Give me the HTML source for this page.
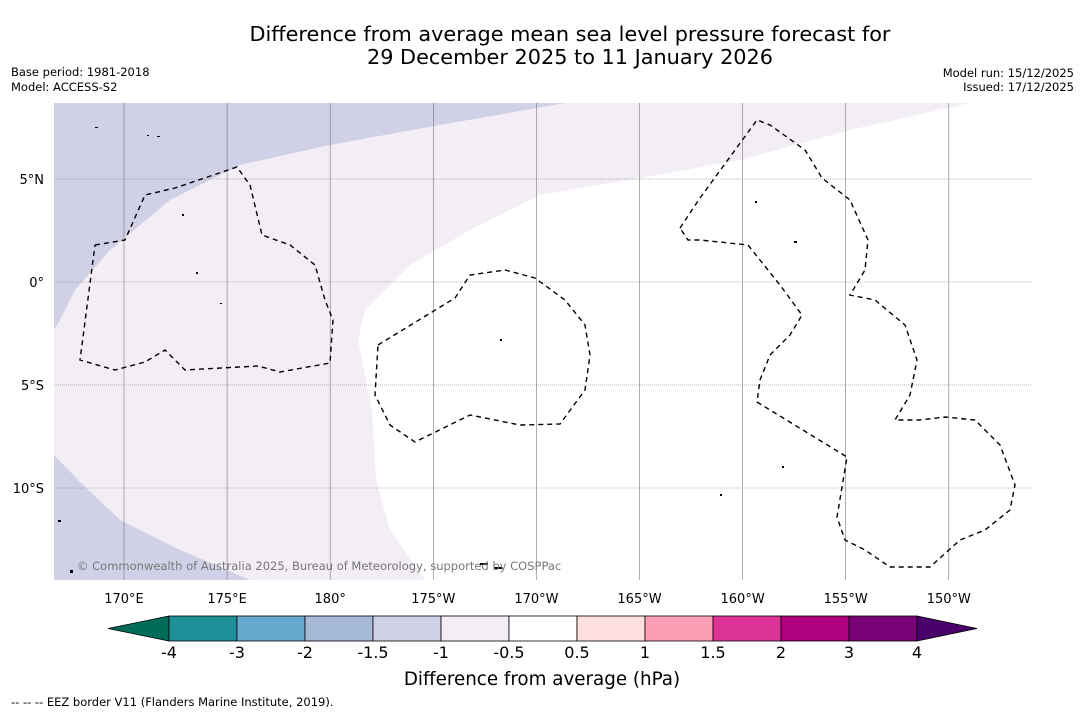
<!DOCTYPE html>
<html><head><meta charset="utf-8"><style>
html,body{margin:0;padding:0;background:#fff;width:1085px;height:713px;overflow:hidden;font-family:"DejaVu Sans","Liberation Sans",sans-serif}
svg{display:block}
</style></head><body>
<svg id="s" width="1085" height="713" viewBox="0 0 1085 713" xmlns="http://www.w3.org/2000/svg" font-family="DejaVu Sans, Liberation Sans, sans-serif">
<text x="570" y="41" font-size="20.8" text-anchor="middle">Difference from average mean sea level pressure forecast for</text>
<text x="570" y="64" font-size="20.8" text-anchor="middle">29 December 2025 to 11 January 2026</text>
<text x="11" y="76" font-size="11.5">Base period: 1981-2018</text>
<text x="11" y="91" font-size="11.5">Model: ACCESS-S2</text>
<text x="1074" y="77" font-size="11.5" text-anchor="end">Model run: 15/12/2025</text>
<text x="1074" y="91" font-size="11.5" text-anchor="end">Issued: 17/12/2025</text>
<defs><clipPath id="mc"><rect x="54" y="103" width="977" height="477"/></clipPath></defs>
<g clip-path="url(#mc)">
<rect x="54" y="103" width="977" height="477" fill="#f3edf5"/>
<polygon fill="#d0d1e6" points="54,103 565,103 440,125 330,145 240,165 170,200 110,250 75,290 60,320 54,330"/>
<polygon fill="#d0d1e6" points="54,455 80,482 120,520 180,550 250,580 54,580"/>
<polygon fill="#ffffff" points="970,103 850,130 740,160 640,178 540,195 470,230 410,265 365,310 358,340 372,410 376,480 390,530 425,580 1031,580 1031,103"/>
<g id="grid" stroke="#777" stroke-width="0.6"></g>
<g fill="none" stroke="#000" stroke-width="1.4" stroke-dasharray="5,4">
<polyline points="95,245 125,240 145,195 175,188 237,167 250,185 262,235 290,245 315,265 325,300 333,320 330,363 280,372 258,366 185,370 165,350 145,362 115,370 80,360 95,245"/>
<polyline points="378,345 455,298 470,275 505,270 535,278 565,300 585,325 590,355 585,390 560,424 520,425 470,415 415,442 390,425 375,395 378,345"/>
<polyline points="680,228 700,198 757,120 770,125 805,150 822,178 850,200 868,240 865,270 850,295 875,300 905,325 917,360 910,395 895,420 920,420 945,417 975,420 1000,445 1015,485 1010,510 985,530 960,540 930,567 890,567 865,550 845,540 837,517 847,457 757,402 760,380 770,355 790,335 802,315 780,285 748,245 700,240 688,240 680,228"/>
</g>
<g fill="#000">
<rect x="95" y="127" width="3" height="1"/><rect x="147" y="135" width="2" height="1"/><rect x="157" y="136" width="3" height="1"/><rect x="182" y="214" width="2" height="2"/><rect x="196" y="272" width="2" height="2"/><rect x="220" y="303" width="2" height="1"/><rect x="500" y="339" width="2" height="2"/><rect x="755" y="201" width="2" height="2"/><rect x="794" y="241" width="3" height="2"/><rect x="480" y="563" width="8" height="2"/><rect x="494" y="567" width="8" height="2"/><rect x="58" y="520" width="3" height="2"/><rect x="70" y="570" width="3" height="3"/><rect x="782" y="466" width="2" height="2"/><rect x="720" y="494" width="2" height="2"/>
</g>
<text x="77" y="570" font-size="11.5" fill="#777">© Commonwealth of Australia 2025, Bureau of Meteorology, supported by COSPPac</text>
</g>
<g id="ticks" font-size="13"></g>
<g id="cbar"></g>
<text x="542" y="685" font-size="18.3" text-anchor="middle">Difference from average (hPa)</text>
<text x="11" y="706" font-size="11.5">--  --  -- EEZ border V11 (Flanders Marine Institute, 2019).</text>
</svg>
<script>
const lonLabels=["170°E","175°E","180°","175°W","170°W","165°W","160°W","155°W","150°W"];
const lonValues=[170,175,180,185,190,195,200,205,210];
const latLabels=["5°N","0°","5°S","10°S"];
const latValues=[5,0,-5,-10];
const cbarLevels=["-4","-3","-2","-1.5","-1","-0.5","0.5","1","1.5","2","3","4"];
const cbarColors=["#1f9098","#67a9cf","#a6b9d7","#d0d1e6","#f3edf5","#ffffff","#fde0dd","#fa9fb5","#dd3497","#ae017e","#7a0177"];
const NS="http://www.w3.org/2000/svg";
const xs=l=>124+(l-170)*20.62, ys=l=>282-l*20.6;
function mk(t,a,p){const e=document.createElementNS(NS,t);for(const k in a)e.setAttribute(k,a[k]);p.appendChild(e);return e;}
const grid=document.getElementById('grid'),ticks=document.getElementById('ticks');
lonValues.forEach((v,i)=>{
 const l=mk('line',{x1:xs(v),x2:xs(v),y1:103,y2:580},grid);
 
 
 const t=mk('text',{x:xs(v),y:603,'text-anchor':'middle'},ticks);t.textContent=lonLabels[i];
 
 
});
latValues.forEach((v,i)=>{
 const l=mk('line',{x1:54,x2:1031,y1:ys(v),y2:ys(v),'stroke-dasharray':'1,1'},grid);
 
 
 const t=mk('text',{x:44,y:ys(v)+5,'text-anchor':'end'},ticks);t.textContent=latLabels[i];
 
 
});
const cb=document.getElementById('cbar');
const x0=169,w=68,y0=616,h=25;
const lt=mk('polygon',{points:`${x0},${y0} ${x0},${y0+h} 108,${y0+h/2}`,fill:'#016c59',stroke:'#000','stroke-width':0.8},cb);


cbarColors.forEach((c,i)=>{
 const r=mk('rect',{x:x0+i*w,y:y0,width:w,height:h,fill:c,stroke:'#000','stroke-width':0.8},cb);
 
 
});
const xe=x0+cbarColors.length*w;
const rt=mk('polygon',{points:`${xe},${y0} ${xe},${y0+h} 977,${y0+h/2}`,fill:'#49006a',stroke:'#000','stroke-width':0.8},cb);


cbarLevels.forEach((v,i)=>{
 const t=mk('text',{x:x0+i*w,y:658,'font-size':16,'text-anchor':'middle'},cb);t.textContent=v;
 
 
});
</script>
</body></html>
